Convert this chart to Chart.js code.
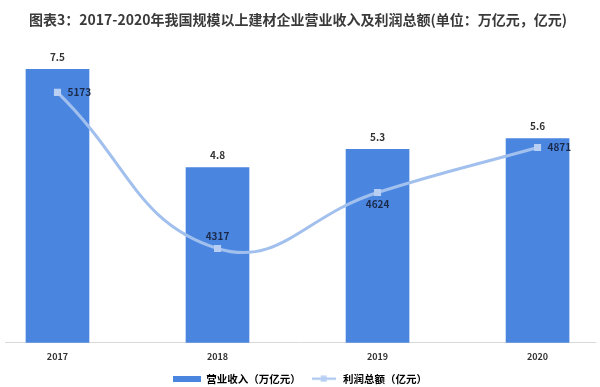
<!DOCTYPE html>
<html>
<head>
<meta charset="utf-8">
<script src="https://cdn.jsdelivr.net/npm/chart.js@4.4.0/dist/chart.umd.min.js"></script>
<style>
  html, body { margin: 0; padding: 0; background: #fff; }
  #wrap { position: relative; width: 600px; height: 387px; }
  #title {
    position: absolute; left: 29px; top: 9px;
    font: bold 14px "Noto Sans CJK SC", sans-serif; color: #3a3a3a;
    white-space: nowrap;
  }
  canvas { position: absolute; left: 0; top: 0; }
</style>
</head>
<body>
<div id="wrap">
  <canvas id="chart" width="600" height="387"></canvas>
  <div id="title">图表3：2017-2020年我国规模以上建材企业营业收入及利润总额(单位：万亿元，亿元)</div>
</div>
<script>
const years = [2017, 2018, 2019, 2020];
const revenue = [7.5, 4.8, 5.3, 5.6];      // 万亿元
const profit = [5173, 4317, 4624, 4871];   // 亿元
const seriesNames = ['营业收入（万亿元）', '利润总额（亿元）'];

// where each profit label sits relative to its point
const profitLabelPos = ['right', 'top', 'bottom', 'right'];

const barColor = '#4a86e0';
const lineColor = '#a2c0ee';
const labelFont = 'bold 10px "Noto Sans CJK SC", sans-serif';

// legend swatches
function swatchBar() {
  const c = document.createElement('canvas');
  c.width = 28; c.height = 6;
  const g = c.getContext('2d');
  g.fillStyle = barColor;
  g.fillRect(0, 0, 28, 6);
  return c;
}
function swatchLine() {
  const c = document.createElement('canvas');
  c.width = 24; c.height = 7;
  const g = c.getContext('2d');
  g.strokeStyle = lineColor;
  g.lineWidth = 2;
  g.beginPath(); g.moveTo(0, 3.5); g.lineTo(24, 3.5); g.stroke();
  g.fillStyle = '#b8cff3';
  g.fillRect(9, 0.5, 6, 6);
  return c;
}

const valueLabels = {
  id: 'valueLabels',
  afterDatasetsDraw(chart) {
    const ctx = chart.ctx;
    ctx.save();
    ctx.font = labelFont;
    ctx.textBaseline = 'middle';

    // bar values
    ctx.fillStyle = '#333';
    ctx.textAlign = 'center';
    chart.getDatasetMeta(0).data.forEach((bar, i) => {
      ctx.fillText(revenue[i].toFixed(1), bar.x, bar.y - 12);
    });

    // line values
    ctx.fillStyle = '#1c2a4a';
    chart.getDatasetMeta(1).data.forEach((pt, i) => {
      const pos = profitLabelPos[i];
      if (pos === 'right') {
        ctx.textAlign = 'left';
        ctx.fillText(String(profit[i]), pt.x + 10, pt.y);
      } else if (pos === 'top') {
        ctx.textAlign = 'center';
        ctx.fillText(String(profit[i]), pt.x, pt.y - 12);
      } else {
        ctx.textAlign = 'center';
        ctx.fillText(String(profit[i]), pt.x, pt.y + 12);
      }
    });
    ctx.restore();
  }
};

new Chart(document.getElementById('chart'), {
  data: {
    datasets: [{
      type: 'bar',
      label: seriesNames[0],
      data: years.map((y, i) => ({ x: y, y: revenue[i] })),
      backgroundColor: barColor,
      barThickness: 63,
      yAxisID: 'y',
      order: 2
    }, {
      type: 'line',
      label: seriesNames[1],
      data: years.map((y, i) => ({ x: y, y: profit[i] })),
      borderColor: lineColor,
      borderWidth: 3,
      tension: 0.45,
      pointStyle: 'rect',
      pointRadius: 5,
      pointBackgroundColor: '#b8cff3',
      pointBorderColor: '#b8cff3',
      pointBorderWidth: 0,
      yAxisID: 'y1',
      order: 1
    }]
  },
  options: {
    responsive: false,
    animation: false,
    layout: { padding: { top: 51, left: 0, right: 0, bottom: -7 } },
    scales: {
      x: {
        type: 'linear',
        min: 2016.672,
        max: 2020.359,
        offset: false,
        afterBuildTicks: s => { s.ticks = years.map(v => ({ value: v })); },
        grid: { display: false, drawTicks: false },
        border: { color: '#d9d9d9', width: 1 },
        ticks: {
          callback: v => String(v),
          color: '#333',
          padding: 8,
          maxRotation: 0,
          font: { family: '"Noto Sans CJK SC", sans-serif', size: 9, weight: 'bold' }
        }
      },
      y: { display: false, min: 0, max: 8 },
      y1: { display: false, min: 3800, max: 5400 }
    },
    plugins: {
      legend: {
        position: 'bottom',
        labels: {
          usePointStyle: true,
          pointStyleWidth: 28,
          boxHeight: 7,
          padding: 4,
          color: '#333',
          font: { family: '"Noto Sans CJK SC", sans-serif', size: 10.5, weight: 'bold' },
          generateLabels: () => [
            { text: seriesNames[0] + '  ', pointStyle: swatchBar(), datasetIndex: 0, lineWidth: 0, strokeStyle: 'transparent', fillStyle: barColor },
            { text: seriesNames[1], pointStyle: swatchLine(), datasetIndex: 1, lineWidth: 0, strokeStyle: 'transparent', fillStyle: lineColor }
          ]
        }
      },
      tooltip: { enabled: false }
    }
  },
  plugins: [valueLabels]
});
</script>
</body>
</html>
